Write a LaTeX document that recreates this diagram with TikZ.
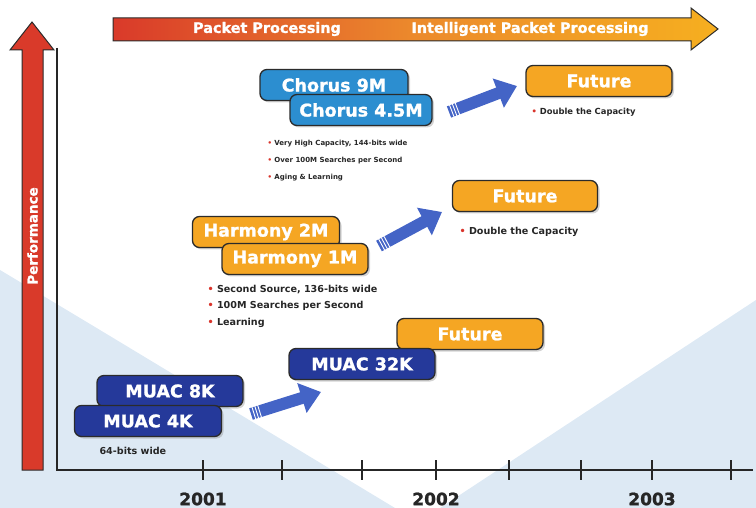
\documentclass[tikz,border=0pt]{standalone}
\usepackage{fontspec}
\setmainfont{DejaVu Sans}
\newfontfamily\heavy{DejaVu Sans Bold}[FakeBold=1.2]
\usetikzlibrary{arrows.meta,shadows,calc}

\definecolor{bgblue}{HTML}{DDE9F4}
\definecolor{perfred}{HTML}{D93A2A}
\definecolor{midorange}{HTML}{EC8A2C}
\definecolor{chorusblue}{HTML}{2C8ED0}
\definecolor{muacblue}{HTML}{25399A}
\definecolor{futorange}{HTML}{F5A623}
\definecolor{arrowblue}{HTML}{4464C6}
\definecolor{bulred}{HTML}{D9342B}
\definecolor{edge}{HTML}{2B2B2B}

\newcommand{\bul}{{\color{bulred}\textbullet}\ }

\tikzset{
  prod/.style={draw=edge, line width=1.3pt, rounded corners=7pt,
    minimum width=146pt, minimum height=31pt, text=white,
    font=\fontsize{17.5}{19}\selectfont\heavy,
    drop shadow={shadow xshift=2pt, shadow yshift=-2pt, opacity=.35}},
  chorus/.style={prod, fill=chorusblue},
  harmony/.style={prod, fill=futorange},
  muac/.style={prod, fill=muacblue},
  future/.style={prod, fill=futorange},
  notes/.style={anchor=west, align=left, text=black!85},
  bigarrow/.style={line width=12pt, draw=arrowblue,
    -{Triangle[length=20pt,width=30pt]}},
  axis/.style={line width=1.5pt, draw=black!85},
  year/.style={font=\fontsize{17}{19}\selectfont\heavy, text=black!85},
  banner/.style={text=white, font=\fontsize{14.4}{16}\selectfont\heavy},
}

\begin{document}
\begin{tikzpicture}[x=1pt,y=-1pt]
  \useasboundingbox (0,0) rectangle (756,508);

  % background wedges
  \fill[bgblue] (0,270) -- (100,330) -- (395,508) -- (0,508) -- cycle;
  \fill[bgblue] (440,508) -- (756,300) -- (756,508) -- cycle;

  % time arrow on top
  \draw[edge, line width=1pt, left color=perfred, right color=futorange!90!yellow, middle color=midorange]
    (113,18) -- (691,18) -- (691,8) -- (718,29) -- (691,50) -- (691,41) -- (113,41) -- cycle;
  \node[banner] (pp) at (267,29) {Packet Processing};
  \node[banner] (ipp) at (530,29) {Intelligent Packet Processing};

  % performance arrow
  \filldraw[fill=perfred, draw=edge, line width=1pt]
    (22,470) -- (22,50) -- (10,50) -- (32,22) -- (54,50) -- (43,50) -- (43,470) -- cycle;
  \node[rotate=90, text=white, font=\fontsize{13.5}{15}\selectfont\heavy] (perf) at (32.5,236) {Performance};

  % axes
  \draw[axis] (57,48) -- (57,470) -- (753,470);
  \foreach \t in {203,282,362,436,509,581,652,731}
    \draw[axis] (\t,460) -- (\t,480);
  \node[year] (y1) at (203,499) {2001};
  \node[year] (y2) at (436,499) {2002};
  \node[year] (y3) at (652,499) {2003};

  % products
  \node[chorus, minimum width=148pt] (c9) at (334,85) {Chorus 9M};
  \node[chorus, minimum width=142pt] (c45) at (361,110) {Chorus 4.5M};
  \node[future] (fut1) at (599,81) {Future};

  \node[harmony, minimum width=147pt] (h2) at (266,232) {Harmony 2M};
  \node[harmony] (h1) at (295,259) {Harmony 1M};
  \node[future, minimum width=145pt] (fut2) at (525,196) {Future};

  \node[future] (fut3) at (470,334) {Future};
  \node[muac] (m32) at (362,364) {MUAC 32K};
  \node[muac] (m8) at (170,391) {MUAC 8K};
  \node[muac, minimum width=147pt] (m4) at (148,421) {MUAC 4K};

  % notes
  \node[notes, font=\fontsize{7}{17}\selectfont\bfseries] (cnote) at (264,161)
    {\bul Very High Capacity, 144-bits wide\\ \bul Over 100M Searches per Second\\ \bul Aging \& Learning};
  \node[notes, font=\fontsize{9.6}{16.5}\selectfont\bfseries] (hnote) at (204,306)
    {\bul Second Source, 136-bits wide\\ \bul 100M Searches per Second\\ \bul Learning};
  \node[notes, font=\fontsize{8.4}{10}\selectfont\bfseries] (f1note) at (528,112) {\bul Double the Capacity};
  \node[notes, font=\fontsize{9.6}{11}\selectfont\bfseries] (f2note) at (456,232) {\bul Double the Capacity};
  \node[notes, font=\fontsize{9.6}{11}\selectfont\bfseries] (mnote) at (96,451) {64-bits wide};

  % growth arrows
  \coordinate (ca) at (449,112); \coordinate (cb) at (517,86);
  \coordinate (ha) at (379,246); \coordinate (hb) at (442,212);
  \coordinate (ma) at (251,414); \coordinate (mb) at (321,392);
  \foreach \a/\b in {ca/cb,ha/hb,ma/mb} {
    \draw[bigarrow] (\a) -- (\b);
    \foreach \d in {3,6,9}
      \draw[white, line width=0.9pt] ($(\a)!\d pt!(\b)!6.5pt!90:(\b)$) -- ($(\a)!\d pt!(\b)!6.5pt!-90:(\b)$);
  }
\end{tikzpicture}
\end{document}
